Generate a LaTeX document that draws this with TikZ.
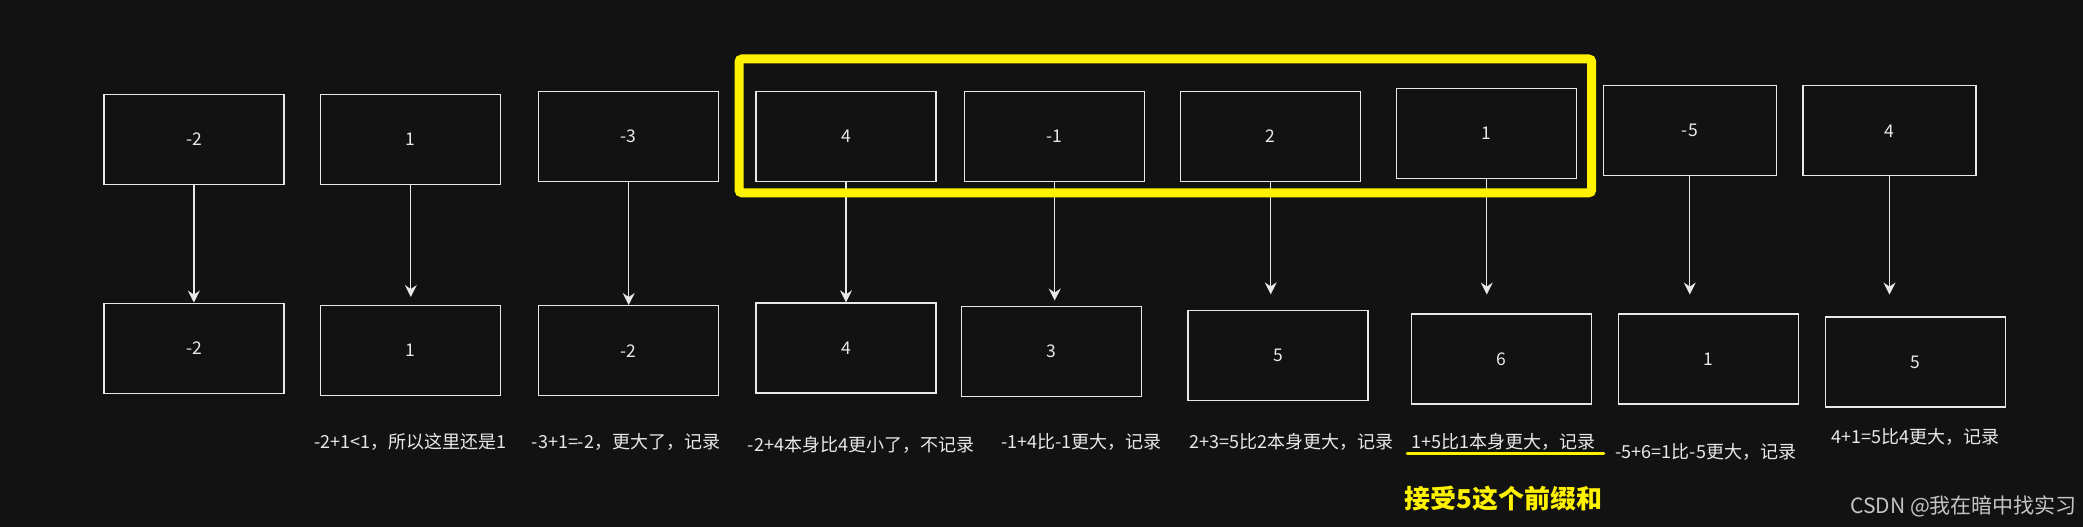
\documentclass[tikz,border=0pt]{standalone}
\usepackage{fontspec}
\setmainfont{Noto Sans CJK SC}
\usetikzlibrary{arrows.meta}
\definecolor{bgdark}{RGB}{18,18,18}
\definecolor{boxline}{RGB}{232,232,232}
\definecolor{hlyellow}{RGB}{255,242,0}
\definecolor{markgray}{RGB}{196,196,196}

\begin{document}
\begin{tikzpicture}[x=1pt, y=-1pt, >={Stealth[length=12pt, width=12pt, inset=4pt]},
    box/.style={draw=boxline, line width=1.3pt, fill=bgdark, minimum width=180pt, minimum height=90pt, text=boxline, font=\fontsize{17.5}{20}\selectfont},
    note/.style={text=boxline, inner sep=3pt, font=\fontsize{18}{21}\selectfont},
    flow/.style={->, draw=boxline, line width=1.2pt}]
    \useasboundingbox[fill=bgdark] (0,0) rectangle (2083,527);

    % array
    \node[box] (t1) at (193.9,139.5) {-2};
    \node[box, right of=t1, node distance=216.9pt] (t2) {1};
    \node[box, right of=t2, node distance=217.9pt, yshift=3pt] (t3) {-3};
    \node[box, right of=t3, node distance=217.3pt] (t4) {4};
    \node[box, right of=t4, node distance=208.7pt] (t5) {-1};
    \node[box, right of=t5, node distance=216pt] (t6) {2};
    \node[box, right of=t6, node distance=216.1pt, yshift=2.8pt] (t7) {1};
    \node[box, right of=t7, node distance=203pt, yshift=2.9pt, minimum width=173pt] (t8) {-5};
    \node[box, right of=t8, node distance=199.7pt, minimum width=173pt] (t9) {4};

    % prefix sums
    \node[box, below of=t1, node distance=208.7pt] (b1) {-2};
    \node[box, below of=t2, node distance=211.2pt] (b2) {1};
    \node[box, below of=t3, node distance=214.2pt] (b3) {-2};
    \node[box, below of=t4, node distance=211.5pt] (b4) {4};
    \node[box, below of=t5, node distance=214.7pt, xshift=-3.3pt] (b5) {3};
    \node[box, below of=t6, node distance=219.2pt, xshift=7.3pt] (b6) {5};
    \node[box, below of=t7, node distance=225.2pt, xshift=14.9pt] (b7) {6};
    \node[box, below of=t8, node distance=228.1pt, xshift=19pt] (b8) {1};
    \node[box, below of=t9, node distance=231.1pt, xshift=26.3pt] (b9) {5};

    \node[note, below of=b2, node distance=91pt] (l2) {-2+1<1，所以这里还是1};
    \node[note, below of=b3, node distance=91pt, xshift=-2.7pt] (l3) {-3+1=-2，更大了，记录};
    \node[note, below of=b4, node distance=97pt, xshift=15pt] (l4) {-2+4本身比4更小了，不记录};
    \node[note, below of=b5, node distance=90.8pt, xshift=30pt] (l5) {-1+4比-1更大，记录};
    \node[note, below of=b6, node distance=86.3pt, xshift=13.5pt] (l6) {2+3=5比2本身更大，记录};
    \node[note, below of=b7, node distance=82.6pt, xshift=1.8pt] (l7) {1+5比1本身更大，记录};
    \node[note, below of=b8, node distance=92.8pt, xshift=-3pt] (l8) {-5+6=1比-5更大，记录};
    \node[note, below of=b9, node distance=74.8pt] (l9) {4+1=5比4更大，记录};

    \node[note, below of=l7, node distance=57pt, text=hlyellow, font=\bfseries\fontsize{26}{29}\selectfont] (pick) {接受5这个前缀和};
    \node[note, text=markgray, font=\fontsize{21}{24}\selectfont] (mark) at (1963.6,506.7) {CSDN @我在暗中找实习};

    \draw[flow] (t1) -- (t1.south |- b1.north);
    \draw[flow, shorten >=8pt] (t2) -- (t2.south |- b2.north);
    \draw[flow] (t3) -- (t3.south |- b3.north);
    \draw[flow] (t4) -- (t4.south |- b4.north);
    \draw[flow, shorten >=5pt] (t5) -- (t5.south |- b5.north);
    \draw[flow, shorten >=15.7pt] (t6) -- (t6.south |- b6.north);
    \draw[flow, shorten >=18.7pt] (t7) -- (t7.south |- b7.north);
    \draw[flow, shorten >=18.7pt] (t8) -- (t8.south |- b8.north);
    \draw[flow, shorten >=21.7pt] (t9) -- (t9.south |- b9.north);

    % highlight
    \draw[hlyellow, line width=9pt, rounded corners=3pt] (739,59) rectangle (1591.7,192.8);
    \draw[hlyellow, line width=3.3pt, line cap=round] ([xshift=-1pt]l7.south west) -- ([xshift=5pt]l7.south east);
\end{tikzpicture}
\end{document}
